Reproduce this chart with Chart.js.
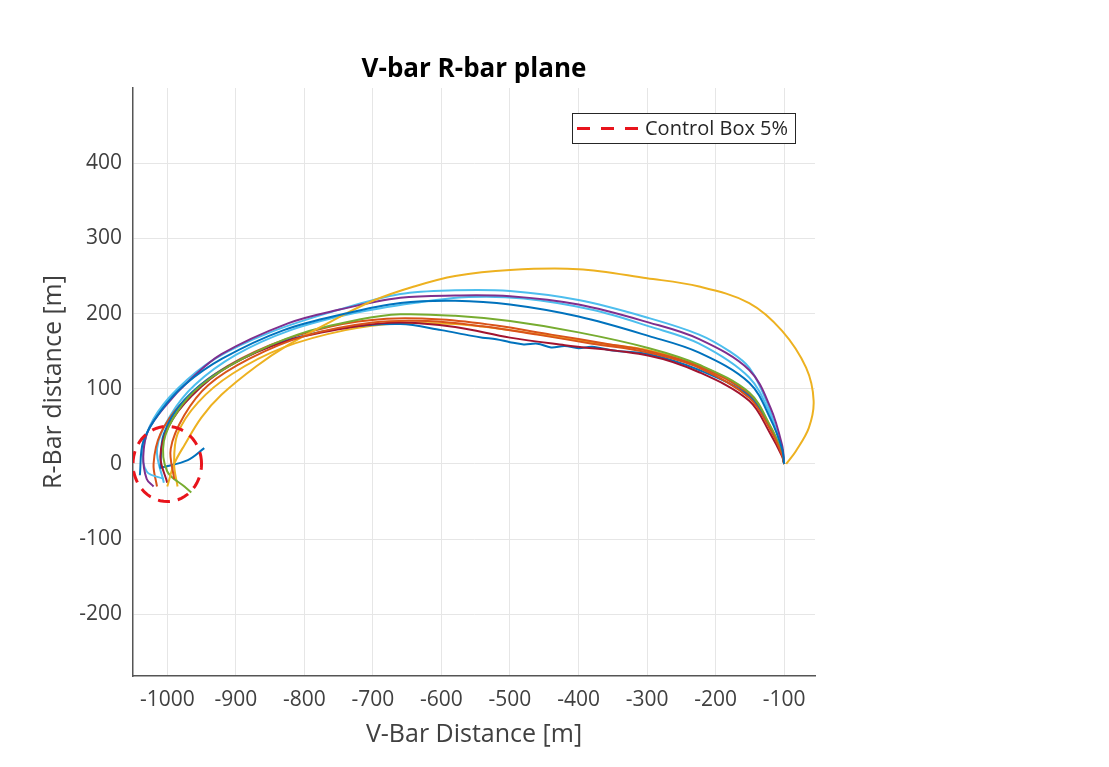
<!DOCTYPE html>
<html>
<head>
<meta charset="utf-8">
<script src="https://cdn.jsdelivr.net/npm/chart.js@4/dist/chart.umd.min.js"></script>
<style>
    html, body { margin: 0; padding: 0; background: #fff; }
    #wrap { width: 1109px; height: 767px; }
</style>
</head>
<body>
<div id="wrap"><canvas id="chart"></canvas></div>
<script>
// trajectories, V-bar (x) / R-bar (y) in metres
const blue1X = [-1040, -1035, -1010, -975, -920, -830, -740, -660, -580, -500, -400, -297, -224, -151, -120, -103, -100];
const blue1Y = [-15, 30, 70, 105, 140, 178, 200, 214, 217, 212, 196, 170, 148, 108, 60, 20, 0];

const orange1X = [-990, -995, -975, -940, -880, -800, -700, -620, -540, -460, -380, -297, -224, -151, -120, -103, -100];
const orange1Y = [-20, 20, 65, 105, 140, 170, 188, 190, 183, 172, 160, 148, 128, 88, 45, 12, 0];

const yellow1X = [-1000, -990, -975, -950, -921, -870, -824, -760, -700, -640, -580, -500, -400, -300, -224, -151, -103, -68, -57, -64, -83, -97];
const yellow1Y = [-30, 0, 25, 62, 92, 130, 158, 190, 217, 236, 250, 258, 259, 247, 236, 214, 177, 128, 84, 48, 17, 0];

const purpleX = [-1020, -1030, -1035, -1028, -1000, -969, -921, -824, -750, -660, -580, -500, -400, -297, -224, -151, -120, -103, -100];
const purpleY = [-30, -20, 10, 44, 80, 110, 146, 187, 205, 221, 224, 223, 212, 188, 166, 125, 75, 25, 0];

const greenX = [-965, -975, -1000, -1005, -985, -950, -890, -810, -720, -660, -580, -500, -400, -297, -224, -151, -120, -103, -100];
const greenY = [-38, -30, -10, 30, 70, 105, 140, 172, 192, 199, 197, 190, 175, 154, 132, 95, 50, 15, 0];

const cyan1X = [-1005, -1030, -1035, -1020, -985, -930, -850, -750, -660, -580, -500, -400, -297, -224, -180, -151, -126, -110, -100];
const cyan1Y = [-20, -10, 20, 60, 100, 140, 175, 205, 226, 231, 230, 218, 194, 172, 150, 128, 84, 40, 5];

const darkRedX = [-1000, -1010, -998, -965, -910, -824, -730, -660, -580, -500, -420, -297, -224, -151, -120, -103, -100];
const darkRedY = [-25, 10, 50, 90, 130, 164, 182, 188, 182, 168, 158, 144, 122, 84, 40, 10, 0];

const blue2X = [-946, -970, -1009, -1010, -1005, -975, -920, -840, -750, -660, -600, -560, -540, -520, -500, -480, -460, -440, -420, -400, -380, -350, -297, -224, -151, -120, -103, -100];
const blue2Y = [21, 5, -5, -5, 40, 85, 125, 160, 180, 186, 178, 171, 168, 166, 162, 159, 160, 155, 157, 154, 156, 151, 146, 125, 90, 48, 14, 0];

const orange2X = [-1015, -1020, -1010, -980, -930, -850, -760, -680, -600, -520, -440, -360, -297, -224, -151, -120, -103, -100];
const orange2Y = [-30, 0, 40, 80, 120, 158, 183, 193, 192, 184, 172, 160, 150, 130, 92, 48, 14, 0];

const yellow2X = [-985, -990, -985, -955, -905, -830, -740, -660, -580, -500, -420, -340, -297, -224, -151, -120, -103, -100];
const yellow2Y = [-30, 0, 40, 82, 120, 155, 178, 187, 186, 178, 167, 157, 151, 131, 93, 50, 15, 0];

const cyan2X = [-1005, -1015, -995, -960, -900, -820, -730, -640, -560, -480, -380, -297, -224, -151, -120, -103, -100];
const cyan2Y = [-25, 20, 65, 105, 145, 178, 200, 214, 222, 220, 205, 183, 160, 115, 65, 20, 0];

// control box: 5% of the 1000 m hold distance around the start point
const boxCenterX = -1000;
const boxCenterY = 0;
const boxRadius = 50;

const xTicks = [-1000, -900, -800, -700, -600, -500, -400, -300, -200, -100];
const yTicks = [-200, -100, 0, 100, 200, 300, 400];

function pts(xs, ys) {
    return xs.map((x, i) => ({ x: x, y: ys[i] }));
}

function circlePts() {
    var out = [];
    for (let i = 0; i <= 60; i++) {
        let a = i / 60 * Math.PI * 2;
        out.push({ x: boxCenterX + boxRadius * Math.cos(a), y: boxCenterY + boxRadius * Math.sin(a) });
    }
    return out;
}

function traj(xs, ys, color) {
    return {
        data: pts(xs, ys),
        showLine: true,
        borderColor: color,
        borderWidth: 2,
        pointRadius: 0,
        tension: 0.35,
        fill: false
    };
}

const datasets = [
    {
        label: 'Control Box 5%',
        data: circlePts(),
        showLine: true,
        borderColor: '#e8141c',
        borderWidth: 3,
        borderDash: [12, 8],
        pointRadius: 0,
        tension: 0
    },
    traj(blue1X, blue1Y, '#0072BD'),
    traj(orange1X, orange1Y, '#D95319'),
    traj(yellow1X, yellow1Y, '#EDB120'),
    traj(purpleX, purpleY, '#7E2F8E'),
    traj(greenX, greenY, '#77AC30'),
    traj(cyan1X, cyan1Y, '#4DBEEE'),
    traj(darkRedX, darkRedY, '#A2142F'),
    traj(blue2X, blue2Y, '#0072BD'),
    traj(orange2X, orange2Y, '#D95319'),
    traj(yellow2X, yellow2Y, '#EDB120'),
    traj(cyan2X, cyan2Y, '#4DBEEE')
];

const font = '"Open Sans", "Noto Sans", sans-serif';

const decorations = {
    id: 'decorations',
    afterDraw(chart) {
        const ctx = chart.ctx;
        const area = chart.chartArea;
        ctx.save();
        // title
        ctx.fillStyle = '#000';
        ctx.font = 'bold 26px ' + font;
        ctx.textAlign = 'center';
        ctx.textBaseline = 'middle';
        ctx.fillText('V-bar R-bar plane', (area.left + area.right) / 2, 70);
        // legend box
        const bx = area.right - 243, by = area.top + 25, bw = 223, bh = 30;
        ctx.fillStyle = '#fff';
        ctx.fillRect(bx, by, bw, bh);
        ctx.strokeStyle = '#262626';
        ctx.lineWidth = 1;
        ctx.strokeRect(bx + 0.5, by + 0.5, bw, bh);
        ctx.strokeStyle = '#e8141c';
        ctx.lineWidth = 3;
        ctx.setLineDash([13, 11]);
        ctx.beginPath();
        ctx.moveTo(bx + 5, by + bh / 2 + 0.5);
        ctx.lineTo(bx + 71, by + bh / 2 + 0.5);
        ctx.stroke();
        ctx.setLineDash([]);
        ctx.fillStyle = '#262626';
        ctx.font = '20px ' + font;
        ctx.textAlign = 'left';
        ctx.fillText('Control Box 5%', bx + 73, by + bh / 2 + 1);
        ctx.restore();
    }
};

new Chart(document.getElementById('chart'), {
    type: 'scatter',
    data: { datasets: datasets },
    plugins: [decorations],
    options: {
        responsive: true,
        maintainAspectRatio: false,
        animation: false,
        layout: { padding: { left: 0, top: 88, right: 294, bottom: 0 } },
        plugins: {
            legend: { display: false },
            title: { display: false },
            tooltip: { enabled: false }
        },
        scales: {
            x: {
                type: 'linear',
                min: -1050,
                max: -55,
                afterFit: s => { s.height = 91; },
                afterBuildTicks: s => { s.ticks = xTicks.map(v => ({ value: v })); },
                border: { display: true, color: '#555', width: 1.5 },
                grid: { color: '#e6e6e6', drawTicks: false },
                ticks: {
                    padding: 11,
                    color: '#404040',
                    font: { family: font, size: 21 },
                    callback: v => String(v)
                },
                title: {
                    display: true,
                    text: 'V-Bar Distance [m]',
                    color: '#404040',
                    font: { family: font, size: 25 },
                    padding: { top: 0, bottom: 17 }
                }
            },
            y: {
                type: 'linear',
                min: -282,
                max: 500,
                afterFit: s => { s.width = 133; },
                afterBuildTicks: s => { s.ticks = yTicks.map(v => ({ value: v })); },
                border: { display: true, color: '#555', width: 1.5 },
                grid: { color: '#e6e6e6', drawTicks: false },
                ticks: {
                    padding: 11,
                    color: '#404040',
                    font: { family: font, size: 21 },
                    callback: v => String(v)
                },
                title: {
                    display: true,
                    text: 'R-Bar distance [m]',
                    color: '#404040',
                    font: { family: font, size: 25 },
                    padding: { top: 39, bottom: 0 }
                }
            }
        }
    }
});
</script>
</body>
</html>
